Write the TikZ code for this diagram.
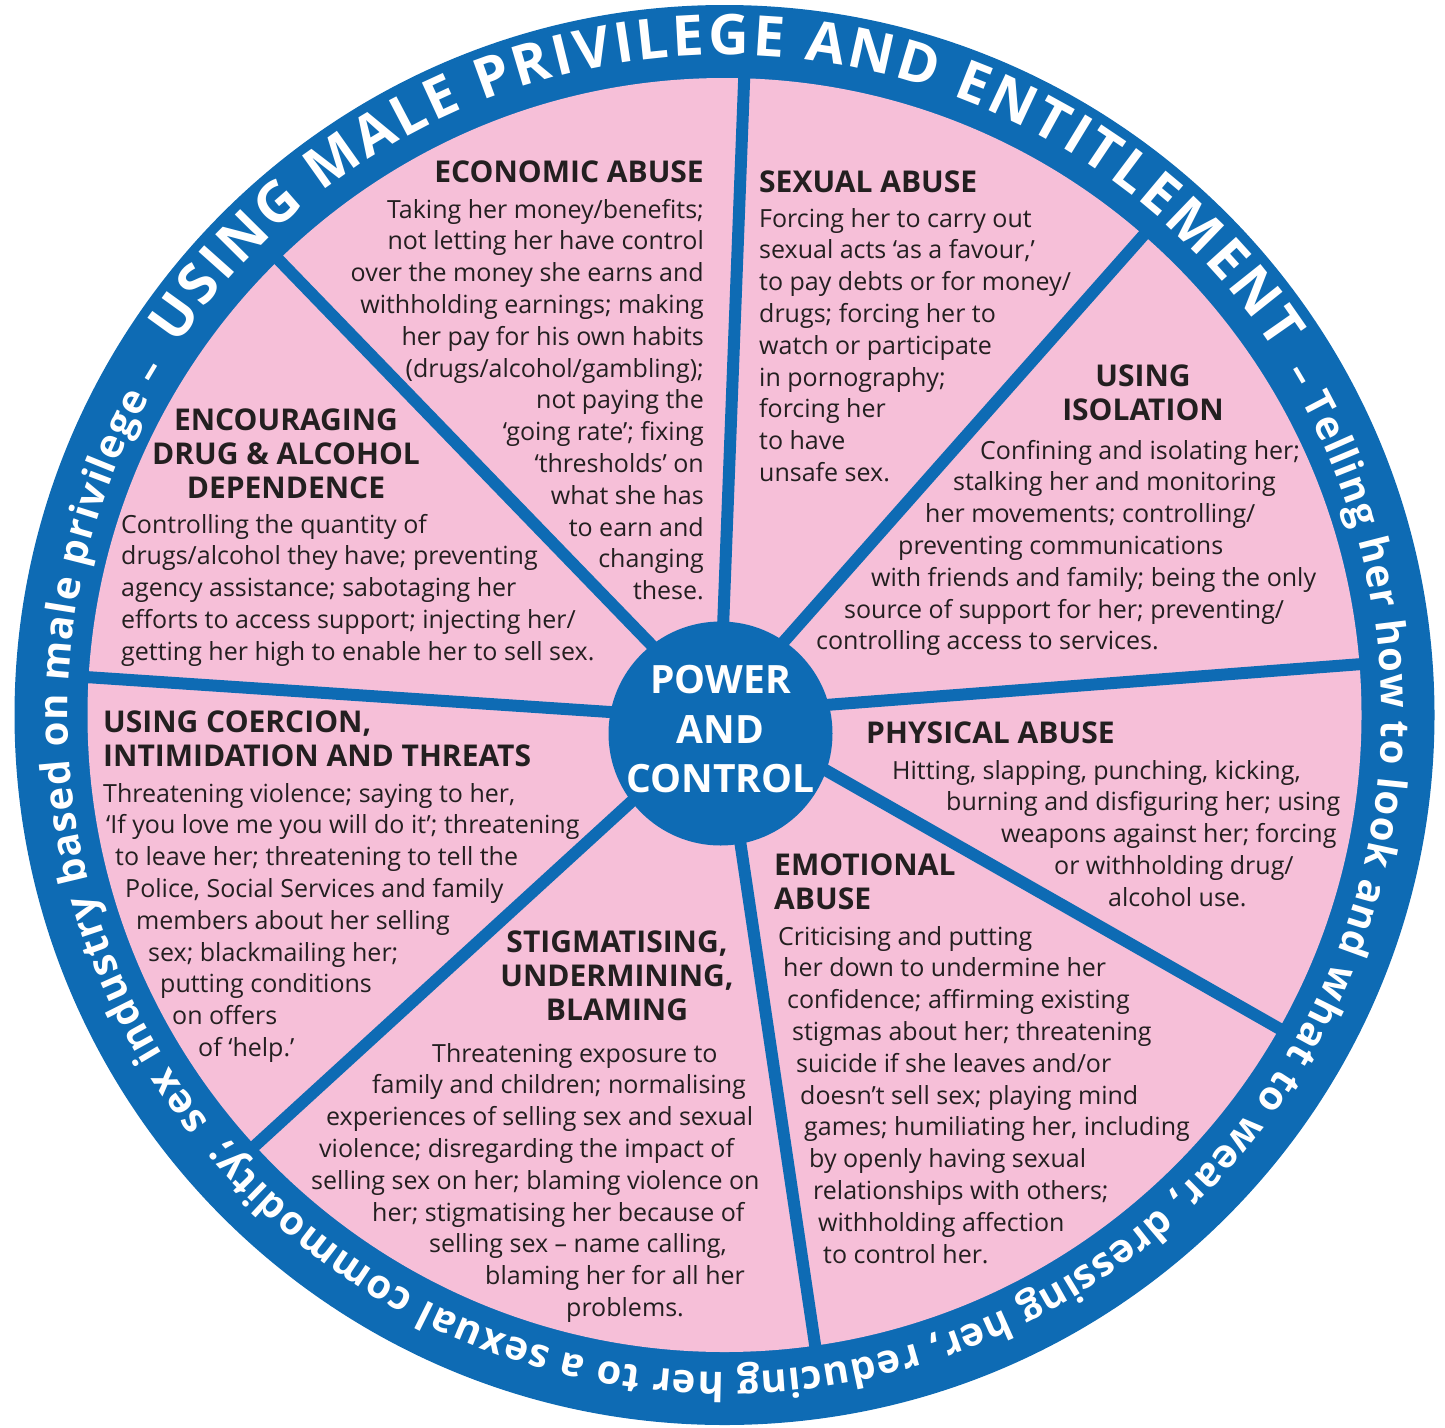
\documentclass[tikz,border=0pt]{standalone}
\usepackage{fontspec}
\setmainfont{Open Sans}
\usetikzlibrary{decorations.text}
\definecolor{wheelBlue}{HTML}{0E6BB4}
\definecolor{wheelPink}{HTML}{F6BFD8}
\definecolor{wheelInk}{HTML}{231F20}
\newcommand{\wheelBody}{\fontsize{25}{31.8}\selectfont}
\newcommand{\wheelTitle}{\fontsize{30}{34}\selectfont\bfseries}
\newcommand{\wheelHub}{\fontsize{39}{49.5}\selectfont\bfseries}
\newcommand{\indby}[1]{\hspace*{#1pt}}

\begin{document}
\begin{tikzpicture}[x=1pt, y=1pt,
          heading/.style={inner sep=0pt, text=wheelInk, font=\wheelTitle},
          body/.style={inner sep=0pt, text=wheelInk, font=\wheelBody},
          spoke/.style={draw=wheelBlue, line width=12pt},
          hub/.style={circle, fill=wheelBlue, minimum size=224pt, inner sep=0pt},
          hubtext/.style={inner sep=0pt, text=white, font=\wheelHub, align=center},
          ringtext/.style={decorate, decoration={text along path, text color=white, text align={fit to path}, text={#1}}}
        ]
          \useasboundingbox (0,0) rectangle (1445,-1427);
          \node[circle, fill=wheelBlue, minimum size=1420pt, inner sep=0pt] (wheel) at (724.5,-715) {};
          \node[circle, fill=wheelPink, minimum size=1274pt, inner sep=0pt] (face) at (wheel) {};

          \coordinate (rimN) at (744.5,-70);    \coordinate (inN) at (721,-680);
          \coordinate (rimNE) at (1149,-229);   \coordinate (inNE) at (741,-690);
          \coordinate (rimE) at (1370,-663.4);  \coordinate (inE) at (760,-710);
          \coordinate (rimSE) at (1287,-1033);  \coordinate (inSE) at (770,-738.5);
          \coordinate (rimS) at (817,-1358);    \coordinate (inS) at (731,-780);
          \coordinate (rimSW) at (247,-1153);   \coordinate (inSW) at (666,-770);
          \coordinate (rimW) at (78,-676.5);    \coordinate (inW) at (670,-716);
          \coordinate (rimNW) at (273.4,-254.3); \coordinate (inNW) at (695,-690);
          \foreach \d in {N,NE,E,SE,S,SW,W,NW}
            \draw[spoke] (in\d) -- (rim\d);

          \node[hub] (hub) at (720.5,-733.5) {};
          \node[hubtext] (hubText) at (hub) {\strut POWER\\AND\\CONTROL\strut};

          \begin{scope}[shift={(wheel.center)}]
            \path[ringtext={|\fontsize{56}{60}\selectfont\bfseries|USING MALE PRIVILEGE AND ENTITLEMENT}]
              (146:660) arc[start angle=146, end angle=33.5, radius=660];
            \path[ringtext={|\fontsize{40}{44}\selectfont\bfseries|– Telling her how to look and what to wear, dressing her, reducing her to a sexual commodity;}]
              (31.4:657) arc[start angle=31.4, end angle=-139.6, radius=657];
            \path[ringtext={|\fontsize{40}{44}\selectfont\bfseries|sex industry based on male privilege –}]
              (-141.7:657) arc[start angle=-141.7, end angle=-211.7, radius=657];
          \end{scope}

          \node[heading, anchor=base east] (ecoTitle) at (704,-182) {ECONOMIC ABUSE};
          \node[body, align=right, anchor=north east] (ecoText) at (704,-195.7) {\strut Taking her money/benefits;\\ not letting her have control\\ over the money she earns and\\ withholding earnings; making\\ her pay for his own habits\\ (drugs/alcohol/gambling);\\ not paying the\\ ‘going rate’; fixing\\ ‘thresholds’ on\\ what she has\\ to earn and\\ changing\\ these.};

          \node[heading, anchor=base west] (sexTitle) at (759,-192) {SEXUAL ABUSE};
          \node[body, align=left, anchor=north west] (sexText) at (759,-204.7) {\strut Forcing her to carry out\\ sexual acts ‘as a favour,’\\ to pay debts or for money/\\ drugs; forcing her to\\ watch or participate\\ in pornography;\\ forcing her\\ to have\\ unsafe sex.};

          \node[heading, align=center, anchor=north] (isoTitle) at (1143,-362.2) {\strut USING\\ISOLATION};
          \node[body, align=left, anchor=north west] (isoText) at (816,-436.7) {\strut\indby{164}Confining and isolating her;\\ \indby{137}stalking her and monitoring\\ \indby{109}her movements; controlling/\\ \indby{82}preventing communications\\ \indby{55}with friends and family; being the only\\ \indby{28}source of support for her; preventing/\\ controlling access to services.};

          \node[heading, align=center, anchor=north] (drugTitle) at (286,-406.2) {\strut ENCOURAGING\\DRUG \& ALCOHOL\\DEPENDENCE};
          \node[body, align=left, anchor=north west] (drugText) at (121,-510.7) {\strut Controlling the quantity of\\ drugs/alcohol they have; preventing\\ agency assistance; sabotaging her\\ efforts to access support; injecting her/\\ getting her high to enable her to sell sex.};

          \node[heading, align=left, anchor=north west] (threatTitle) at (103,-708.2) {\strut USING COERCION,\\INTIMIDATION AND THREATS};
          \node[body, align=left, anchor=north west] (threatText) at (103,-779.7) {\strut Threatening violence; saying to her,\\ \indby{3}‘If you love me you will do it’; threatening\\ \indby{12}to leave her; threatening to tell the\\ \indby{22}Police, Social Services and family\\ \indby{33}members about her selling\\ \indby{45}sex; blackmailing her;\\ \indby{57}putting conditions\\ \indby{69}on offers\\ \indby{95}of ‘help.’};

          \node[heading, align=center, anchor=north] (stigmaTitle) at (617,-928.2) {\strut STIGMATISING,\\UNDERMINING,\\BLAMING};
          \node[body, align=left, anchor=north west] (stigmaText) at (311,-1039.7) {\strut\indby{121}Threatening exposure to\\ \indby{61}family and children; normalising\\ \indby{15}experiences of selling sex and sexual\\ \indby{8}violence; disregarding the impact of\\ selling sex on her; blaming violence on\\ \indby{61}her; stigmatising her because of\\ \indby{118}selling sex – name calling,\\ \indby{174}blaming her for all her\\ \indby{255}problems.};

          \node[heading, align=left, anchor=north west] (emoTitle) at (774,-851.2) {\strut EMOTIONAL\\ABUSE};
          \node[body, align=left, anchor=north west] (emoText) at (778,-922.7) {\strut Criticising and putting\\ \indby{5}her down to undermine her\\ \indby{9}confidence; affirming existing\\ \indby{14}stigmas about her; threatening\\ \indby{18}suicide if she leaves and/or\\ \indby{22}doesn’t sell sex; playing mind\\ \indby{26}games; humiliating her, including\\ \indby{31}by openly having sexual\\ \indby{35}relationships with others;\\ \indby{40}withholding affection\\ \indby{45}to control her.};

          \node[heading, anchor=base west] (physTitle) at (866,-743) {PHYSICAL ABUSE};
          \node[body, align=left, anchor=north west] (physText) at (892,-756.7) {\strut Hitting, slapping, punching, kicking,\\ \indby{54}burning and disfiguring her; using\\ \indby{109}weapons against her; forcing\\ \indby{162}or withholding drug/\\ \indby{216}alcohol use.};
        \end{tikzpicture}
\end{document}
